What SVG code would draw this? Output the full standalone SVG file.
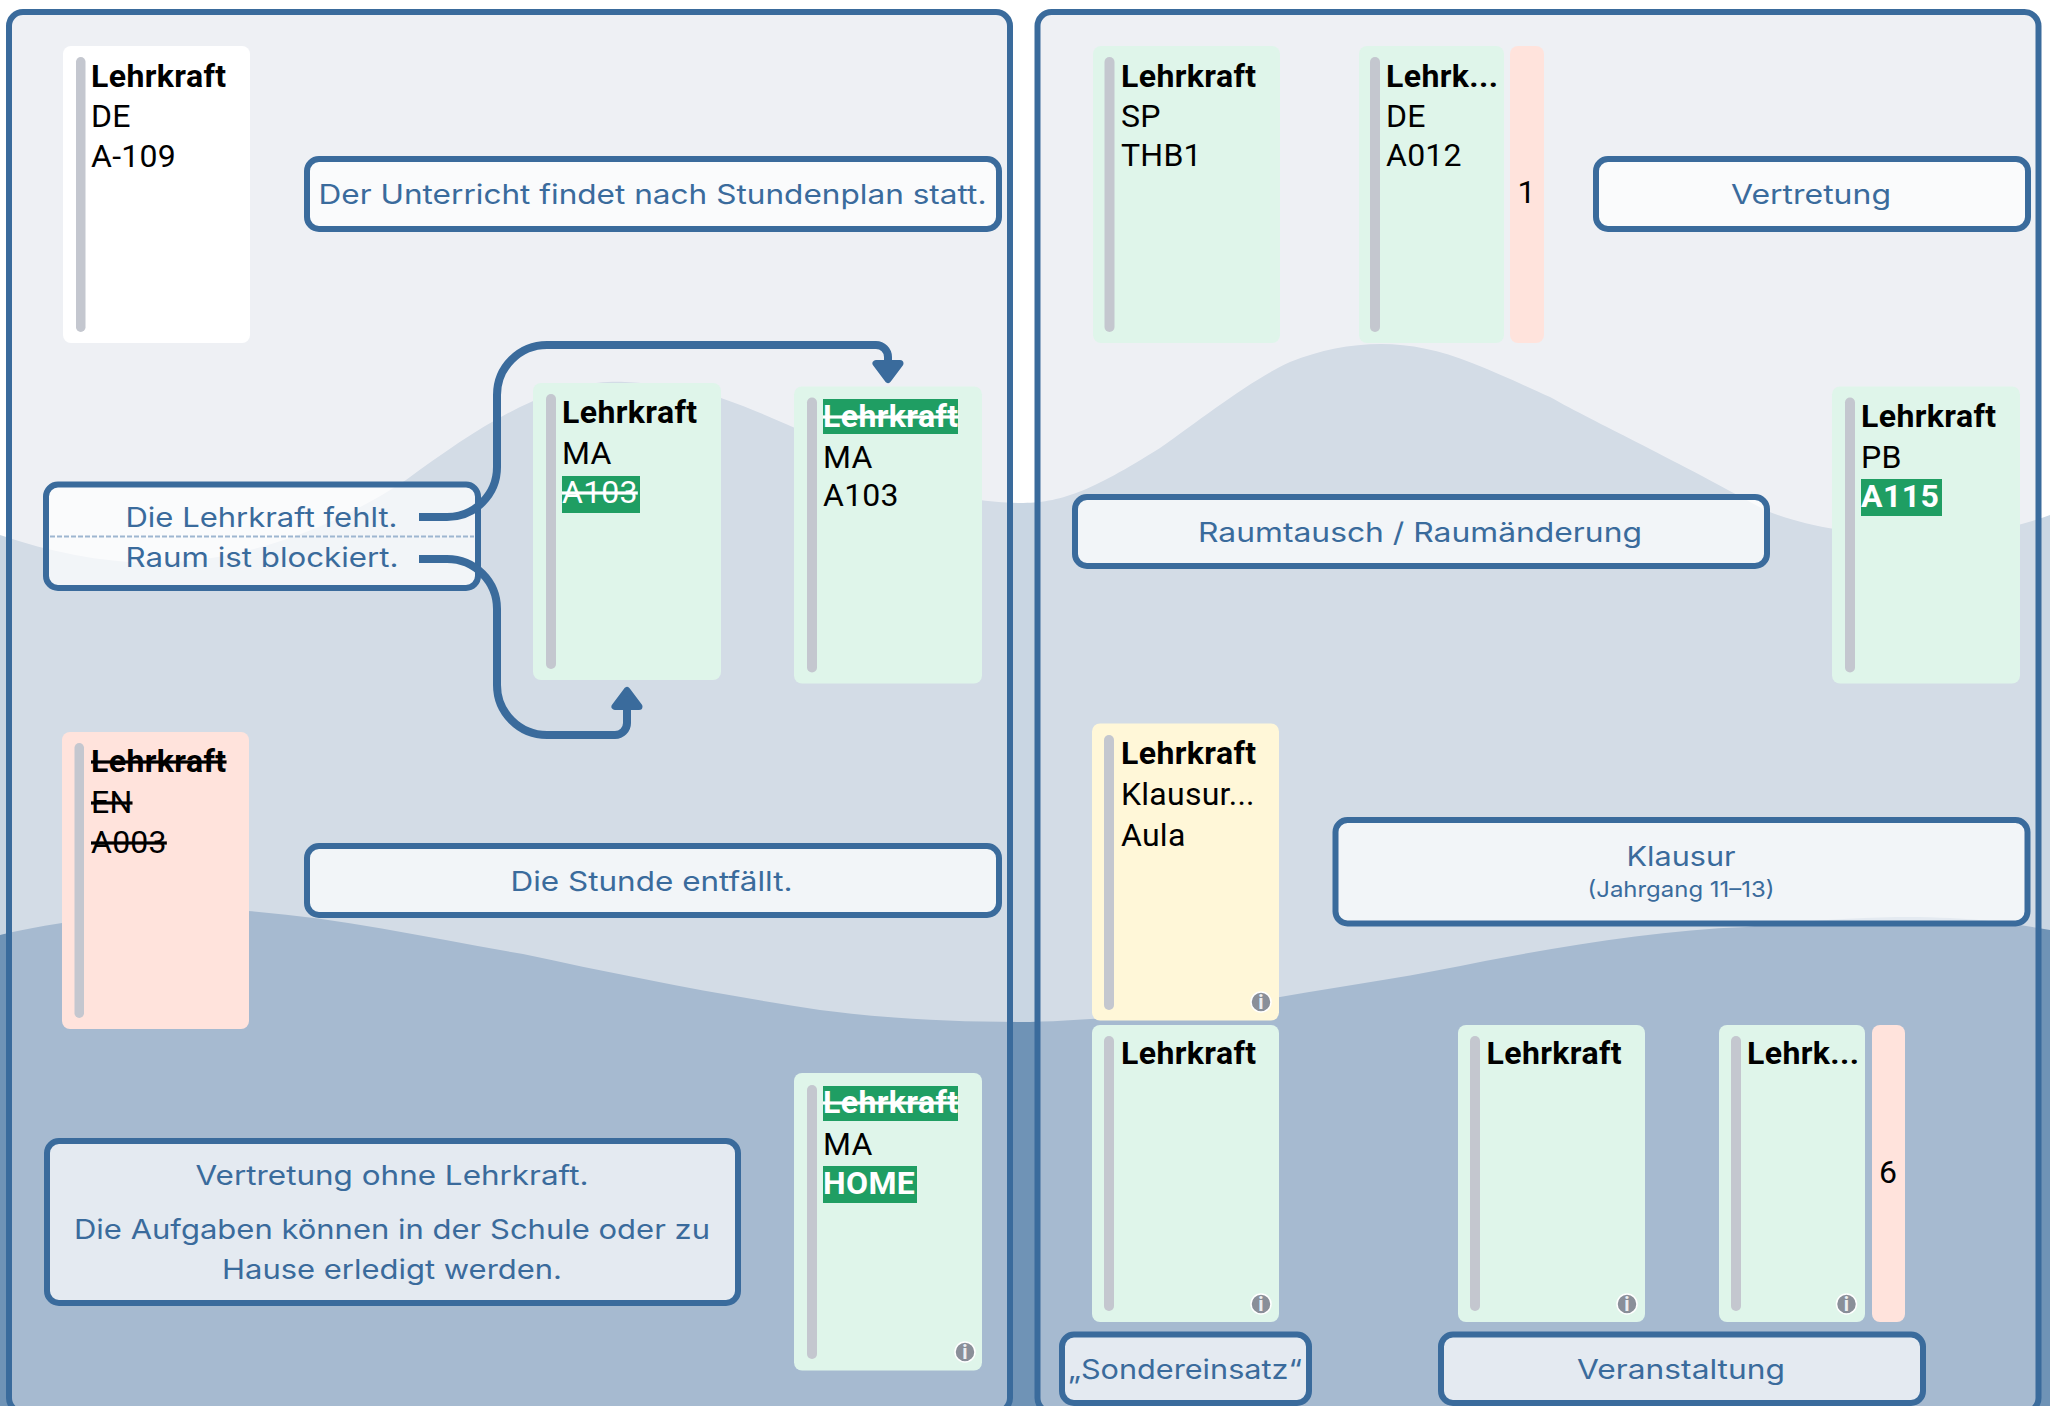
<svg xmlns="http://www.w3.org/2000/svg" width="2050" height="1406" viewBox="0 0 2050 1406">
<style>
.panel{fill:#dde1e9;fill-opacity:.5;stroke:#3a6b9c;stroke-width:6}
.lbl{fill:#fff;fill-opacity:.7;stroke:#3a6b9c;stroke-width:6}
.lt{font-family:"Inter","Noto Sans",sans-serif;font-size:27px;fill:#3a6b9c;text-anchor:middle}
.sub{font-size:22px}
.t{font-family:"Roboto","Liberation Sans",sans-serif;font-size:32px;letter-spacing:.25px;fill:#000}
.b{font-weight:700;letter-spacing:.4px}
.w{fill:#fff}
.x{text-decoration:line-through}
.n{text-anchor:middle}
.g{fill:#dff5ea}.r{fill:#ffe3dc}.y{fill:#fff7d8}.wh{fill:#fff}
.bar{fill:#c4c7cf}
.hl{fill:#1f9e63}
.inf{fill:#8a8f99;stroke:#fff;stroke-width:1.5}
.it{font-family:"Roboto",sans-serif;font-size:20px;font-weight:700;fill:#eceef2;text-anchor:middle}
.con{fill:none;stroke:#3a6b9c;stroke-width:8}
.ah{fill:#3a6b9c;stroke:#3a6b9c;stroke-width:7;stroke-linejoin:round}
</style>
<g id="background">
<path fill="#c9d6e3" d="M0 535C50 552 100 562 150 563C240 563 330 530 406 480C450 448 490 420 531 402C570 384 600 381 625 382C660 384 690 386 721 398C750 408 770 417 795 428C860 465 930 502 1020 503C1060 503 1090 492 1160 448C1200 420 1250 380 1290 362C1320 350 1350 344 1381 344C1410 344 1440 350 1472 363C1500 374 1530 388 1550 397C1600 425 1660 452 1765 510C1800 525 1850 535 1920 535C1970 535 2010 530 2050 515V1406H0Z"/>
<path fill="#6f93b6" d="M0 935C60 921 150 908 248 911C340 918 430 938 523 954C620 975 720 995 820 1010C900 1020 960 1022 1030 1022C1100 1020 1190 1012 1280 997C1350 985 1420 975 1485 961C1570 945 1660 930 1746 927C1830 918 1900 915 1950 918C1990 920 2020 925 2050 930V1406H0Z"/>
</g>
<g id="panels">
<rect class="panel" x="9" y="12" width="1001" height="1400" rx="14"/>
<rect class="panel" x="1037.5" y="12" width="1001" height="1400" rx="14"/>
</g>
<g id="note-plan"><rect class="lbl" x="307" y="159" width="692" height="70" rx="12"/><text class="lt" x="652.500" y="203.500" textLength="668" lengthAdjust="spacingAndGlyphs">Der Unterricht findet nach Stundenplan statt.</text></g>
<g id="note-reason"><rect class="lbl" x="46" y="484.500" width="432" height="103.500" rx="12"/><path d="M50 536.500H474" stroke="#9db6d0" stroke-width="2" stroke-dasharray="5 2" fill="none"/><text class="lt" x="261.500" y="526.500" textLength="272" lengthAdjust="spacingAndGlyphs">Die Lehrkraft fehlt.</text><text class="lt" x="262" y="566.500" textLength="273" lengthAdjust="spacingAndGlyphs">Raum ist blockiert.</text></g>
<g id="note-cancel"><rect class="lbl" x="307" y="846" width="692" height="69" rx="12"/><text class="lt" x="651.500" y="890.500" textLength="282" lengthAdjust="spacingAndGlyphs">Die Stunde entfällt.</text></g>
<g id="note-home"><rect class="lbl" x="47" y="1141" width="691" height="162" rx="12"/><text class="lt" x="392" y="1184.500" textLength="393" lengthAdjust="spacingAndGlyphs">Vertretung ohne Lehrkraft.</text><text class="lt" x="392" y="1238.500" textLength="636" lengthAdjust="spacingAndGlyphs">Die Aufgaben können in der Schule oder zu</text><text class="lt" x="392" y="1278.500" textLength="340" lengthAdjust="spacingAndGlyphs">Hause erledigt werden.</text></g>
<g id="note-vertretung"><rect class="lbl" x="1596" y="159" width="432" height="70" rx="12"/><text class="lt" x="1811" y="203.500" textLength="160" lengthAdjust="spacingAndGlyphs">Vertretung</text></g>
<g id="note-raum"><rect class="lbl" x="1075" y="497" width="692" height="69" rx="12"/><text class="lt" x="1420" y="541.500" textLength="444" lengthAdjust="spacingAndGlyphs">Raumtausch / Raumänderung</text></g>
<g id="note-klausur"><rect class="lbl" x="1335.500" y="820" width="692" height="103.500" rx="12"/><text class="lt" x="1681" y="866" textLength="109" lengthAdjust="spacingAndGlyphs">Klausur</text><text class="lt sub" x="1681" y="897" textLength="187" lengthAdjust="spacingAndGlyphs">(Jahrgang 11–13)</text></g>
<g id="note-sonder"><rect class="lbl" x="1062" y="1334.500" width="247" height="68.500" rx="12"/><text class="lt" x="1185" y="1379" textLength="234" lengthAdjust="spacingAndGlyphs">„Sondereinsatz“</text></g>
<g id="note-veranst"><rect class="lbl" x="1441" y="1334.500" width="482" height="68.500" rx="12"/><text class="lt" x="1681" y="1379" textLength="208" lengthAdjust="spacingAndGlyphs">Veranstaltung</text></g>
<g id="connectors">
<path class="con" d="M419 517H447a50 50 0 0 0 50-50V395a50 50 0 0 1 50-50H876a12 12 0 0 1 12 12V364"/>
<path class="ah" d="M876 363.500H900L888 379.500Z"/>
<path class="con" d="M419 559H447a50 50 0 0 1 50 50V685a50 50 0 0 0 50 50H615a12 12 0 0 0 12-12V708"/>
<path class="ah" d="M615 706.500H639L627 690.500Z"/>
</g>

<g id="card-a"><rect class="wh" x="63" y="46" width="187" height="297" rx="8"/><rect class="bar" x="76" y="57" width="9.500" height="275" rx="4.750"/><text class="t b" x="91" y="86.500">Lehrkraft</text><text class="t" x="91" y="126.500">DE</text><text class="t" x="91" y="166.500">A-109</text></g>
<g id="card-b"><rect class="g" x="533" y="383" width="188" height="297" rx="8"/><rect class="bar" x="546" y="394" width="10" height="275" rx="5"/><rect class="hl" x="562" y="476" width="78" height="37"/><text class="t b" x="562" y="423">Lehrkraft</text><text class="t" x="562" y="463.500">MA</text><text class="t w x" x="562" y="503">A103</text></g>
<g id="card-c"><rect class="g" x="794" y="386.500" width="188" height="297" rx="8"/><rect class="bar" x="807" y="397.500" width="10" height="275" rx="5"/><rect class="hl" x="823" y="399" width="135" height="35"/><text class="t b w x" x="823" y="427">Lehrkraft</text><text class="t" x="823" y="468">MA</text><text class="t" x="823" y="506">A103</text></g>
<g id="card-d"><rect class="r" x="62" y="732" width="187" height="297" rx="8"/><rect class="bar" x="74.500" y="743" width="9.500" height="275" rx="4.750"/><text class="t b x" x="91" y="772">Lehrkraft</text><text class="t x" x="91" y="813">EN</text><text class="t x" x="91" y="853">A003</text></g>
<g id="card-e"><rect class="g" x="794" y="1073" width="188" height="297.500" rx="8"/><rect class="bar" x="807" y="1085" width="10" height="274" rx="5"/><rect class="hl" x="823" y="1086" width="135" height="35"/><rect class="hl" x="823" y="1166" width="94" height="37"/><text class="t b w x" x="823" y="1113">Lehrkraft</text><text class="t" x="823" y="1155">MA</text><text class="t b w" x="823" y="1194">HOME</text><circle class="inf" cx="965" cy="1352" r="10"/><text class="it" x="965" y="1359">i</text></g>
<g id="card-f"><rect class="g" x="1093" y="46" width="187" height="297" rx="8"/><rect class="bar" x="1104.500" y="57" width="10" height="275" rx="5"/><text class="t b" x="1121" y="86.500">Lehrkraft</text><text class="t" x="1121" y="126.500">SP</text><text class="t" x="1121" y="166">THB1</text></g>
<g id="card-g"><rect class="g" x="1359" y="46" width="145" height="297" rx="8"/><rect class="bar" x="1370" y="57" width="10" height="275" rx="5"/><text class="t b" x="1386" y="86.500">Lehrk...</text><text class="t" x="1386" y="126.500">DE</text><text class="t" x="1386" y="166">A012</text><rect class="r" x="1510" y="46" width="34" height="297" rx="8"/><text class="t n" x="1526.500" y="202.500">1</text></g>
<g id="card-h"><rect class="g" x="1832" y="386.500" width="188" height="297" rx="8"/><rect class="bar" x="1845" y="397.500" width="10" height="275" rx="5"/><rect class="hl" x="1861" y="479" width="81" height="37"/><text class="t b" x="1861" y="427">Lehrkraft</text><text class="t" x="1861" y="468">PB</text><text class="t b w" x="1861" y="506.500">A115</text></g>
<g id="card-i"><rect class="y" x="1092" y="723.500" width="187" height="297" rx="8"/><rect class="bar" x="1104" y="735" width="10" height="275" rx="5"/><text class="t b" x="1121" y="764">Lehrkraft</text><text class="t" x="1121" y="805">Klausur...</text><text class="t" x="1121" y="845.500">Aula</text><circle class="inf" cx="1261" cy="1002" r="10"/><text class="it" x="1261" y="1009">i</text></g>
<g id="card-j"><rect class="g" x="1092" y="1025" width="187" height="297" rx="8"/><rect class="bar" x="1104" y="1036" width="10" height="275" rx="5"/><text class="t b" x="1121" y="1064">Lehrkraft</text><circle class="inf" cx="1261" cy="1304" r="10"/><text class="it" x="1261" y="1311">i</text></g>
<g id="card-k"><rect class="g" x="1458" y="1025" width="187" height="297" rx="8"/><rect class="bar" x="1470" y="1036" width="10" height="275" rx="5"/><text class="t b" x="1486.500" y="1064">Lehrkraft</text><circle class="inf" cx="1627" cy="1304" r="10"/><text class="it" x="1627" y="1311">i</text></g>
<g id="card-l"><rect class="g" x="1719" y="1025" width="146" height="297" rx="8"/><rect class="bar" x="1731" y="1036" width="10" height="275" rx="5"/><text class="t b" x="1747" y="1064">Lehrk...</text><circle class="inf" cx="1846.500" cy="1304" r="10"/><text class="it" x="1846.500" y="1311">i</text><rect class="r" x="1872" y="1025" width="33" height="297" rx="8"/><text class="t n" x="1888" y="1183">6</text></g>
</svg>
